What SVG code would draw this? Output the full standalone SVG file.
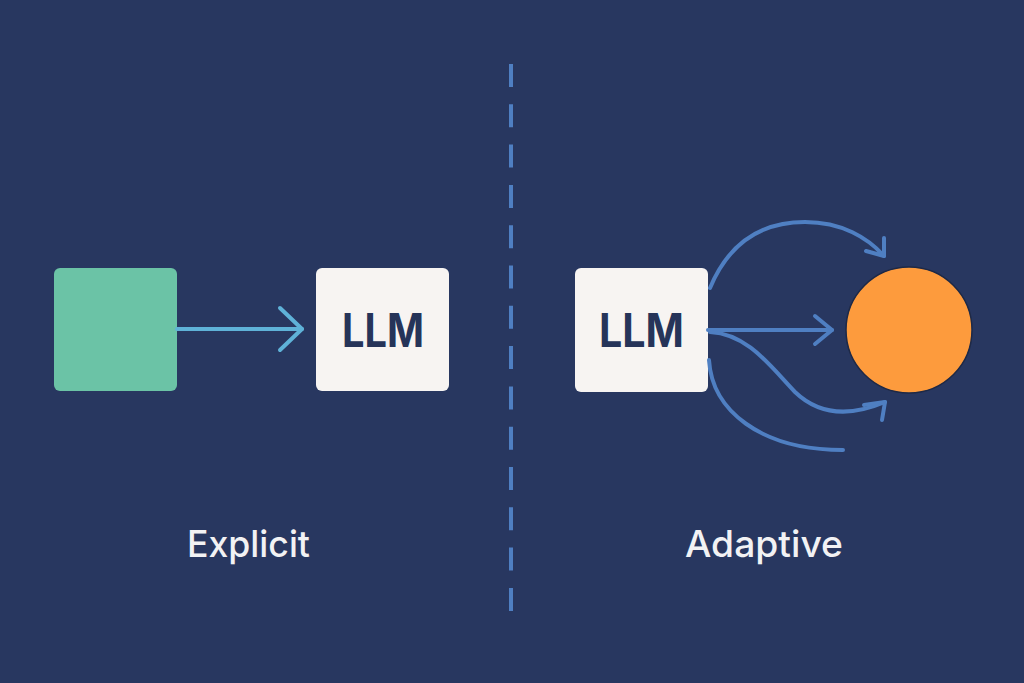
<svg xmlns="http://www.w3.org/2000/svg" width="1024" height="683" viewBox="0 0 1024 683">
  <defs>
    <style>
      .bg { fill: #283760; }
      .box { fill: #f7f4f2; }
      .llm { font-family: Inter, "Liberation Sans", sans-serif; font-weight: 700; font-size: 46px; fill: #263459; text-anchor: middle; }
      .label { font-family: Inter, "Liberation Sans", sans-serif; font-weight: 500; font-size: 37px; fill: #f2f2f4; text-anchor: middle; }
      .conn { fill: none; stroke: #4f7fc2; stroke-width: 4; stroke-linecap: round; stroke-linejoin: round; }
      .conn-light { fill: none; stroke: #5fb2d8; stroke-width: 4; stroke-linecap: round; stroke-linejoin: round; }
      .divider { stroke: #4f7fc2; stroke-width: 4; stroke-dasharray: 23 17.3; }
    </style>
  </defs>
  <rect class="bg" x="0" y="0" width="1024" height="683"/>

  <line class="divider" x1="511" y1="64" x2="511" y2="612"/>

  <g id="input-square">
    <rect x="54" y="268" width="123" height="123" rx="6" fill="#6bc3a6"/>
  </g>

  <g id="llm-explicit">
    <rect class="box" x="316" y="268" width="133" height="123" rx="6"/>
    <text class="llm" x="383" y="347" textLength="82" lengthAdjust="spacingAndGlyphs">LLM</text>
  </g>

  <g id="llm-adaptive">
    <rect class="box" x="575" y="268" width="133" height="124" rx="6"/>
    <text class="llm" x="641.5" y="347" textLength="85" lengthAdjust="spacingAndGlyphs">LLM</text>
  </g>

  <g id="output-circle">
    <circle cx="909" cy="330" r="63" fill="#fd9b3d" stroke="#1e2946" stroke-width="1.5"/>
  </g>

  <g id="label-explicit">
    <text class="label" x="248.5" y="557" textLength="123" lengthAdjust="spacingAndGlyphs">Explicit</text>
  </g>
  <g id="label-adaptive">
    <text class="label" x="764" y="557" textLength="158" lengthAdjust="spacingAndGlyphs">Adaptive</text>
  </g>

  <g id="connectors">
    <path class="conn-light" d="M177,329 L302,329"/>
    <path class="conn-light" d="M280,308 L302,329 L280,350"/>

    <path class="conn" d="M710,288 C730,240 765,222 805,222 C842,222 868,238 884,256"/>
    <path class="conn" d="M866,251 L884,256 L884,238"/>

    <path class="conn" d="M708,330 L832,330"/>
    <path class="conn" d="M815,316 L832,330 L815,344"/>

    <path class="conn" d="M710,332 C748,334 770,366 795,392 C820,416 852,416 885,402"/>
    <path class="conn" d="M864,405 L885,402 L882,420"/>

    <path class="conn" d="M709,360 C712,410 760,450 843,450"/>
  </g>
</svg>
